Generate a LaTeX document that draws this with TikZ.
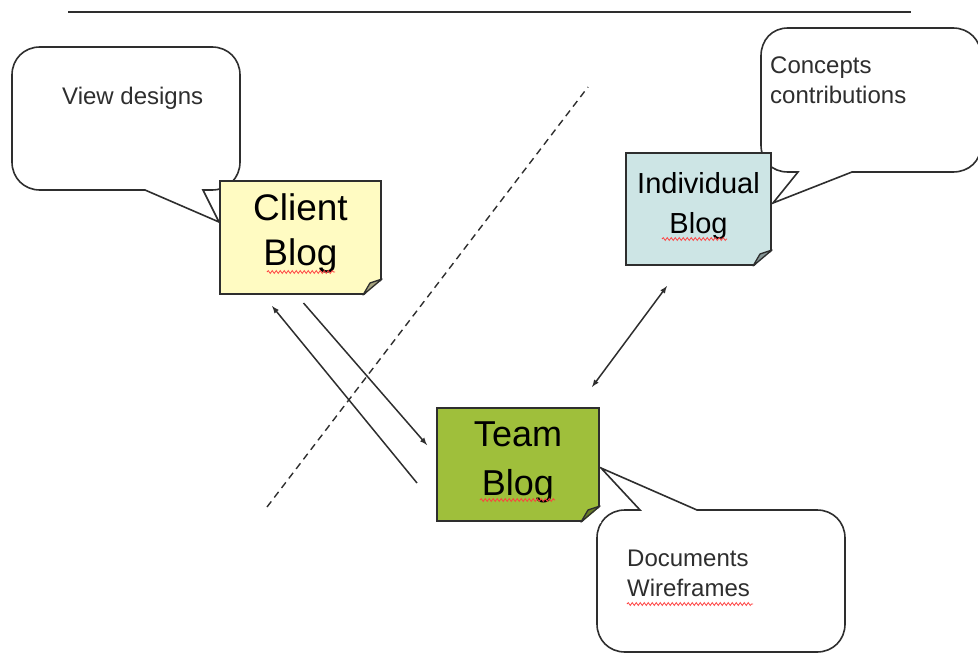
\documentclass[tikz,border=0pt]{standalone}
\usepackage{fontspec}
\setmainfont{Liberation Sans}
\usetikzlibrary{arrows,decorations.pathmorphing}

\definecolor{clientyellow}{HTML}{FFFBC2}
\definecolor{indivblue}{HTML}{CDE5E5}
\definecolor{teamgreen}{HTML}{9FBF3B}
\definecolor{inkgray}{HTML}{2E2E2E}

% folded corner of a blog note: #1 node, #2 fill colour
\newcommand\dogear[2]{%
  \fill[white] ([shift={(-19,1.2)}]#1.south east) -- ([shift={(1.2,1.2)}]#1.south east) -- ([shift={(1.2,-16)}]#1.south east) -- cycle;
  \filldraw[fill=#2!65!black,draw=inkgray,line width=1.3pt,line join=round] ([shift={(-19,0)}]#1.south east) -- ([shift={(0,-16)}]#1.south east) -- ([shift={(-12,-12)}]#1.south east) -- cycle;}

\begin{document}
\begin{tikzpicture}[x=1pt,y=-1pt,>=latex,
    blog/.style={draw=inkgray,line width=2pt,inner sep=0pt,align=center,text=black},
    bubble/.style={draw=inkgray,line width=1.6pt,fill=white},
    says/.style={anchor=north west,inner sep=0pt,align=left,text=inkgray,font=\fontsize{24}{30}\selectfont},
    link/.style={draw=inkgray,line width=1.5pt},
    squiggle/.style={draw=red!75,line width=0.8pt,decorate,decoration={snake,amplitude=1.4pt,segment length=4pt}}]

  \useasboundingbox (0,0) rectangle (978,653);

  % rule along the top
  \coordinate (ruleL) at (68,12);
  \coordinate (ruleR) at (911,12);
  \draw[inkgray,line width=1.8pt] (ruleL) -- (ruleR);

  % speech bubbles
  \draw[bubble] (145,190) -- (40,190) .. controls (24,190) and (12,178) .. (12,162)
     -- (12,75) .. controls (12,59) and (24,47) .. (40,47)
     -- (212,47) .. controls (228,47) and (240,59) .. (240,75)
     -- (240,162) .. controls (240,178) and (228,190) .. (212,190)
     -- (203,190) -- (219,222) -- cycle;
  \node[says] (viewtxt) at (62,87) {View designs};

  \draw[bubble] (852,172) -- (773,203) -- (798,172) -- (788,172) .. controls (772,172) and (761,161) .. (761,145)
     -- (761,56) .. controls (761,40) and (772,28) .. (788,28)
     -- (953,28) .. controls (969,28) and (981,40) .. (981,56)
     -- (981,145) .. controls (981,161) and (969,172) .. (953,172) -- cycle;
  \node[says] (ideastxt) at (770,57) {Concepts\\contributions};

  \draw[bubble] (697,510) -- (817,510) .. controls (833,510) and (845,522) .. (845,538)
     -- (845,624) .. controls (845,640) and (833,652) .. (817,652)
     -- (625,652) .. controls (609,652) and (597,640) .. (597,624)
     -- (597,538) .. controls (597,522) and (609,510) .. (625,510)
     -- (640,510) -- (601,468) -- cycle;
  \node[says] (docstxt) at (627,550) {Documents\\Wireframes};

  % the three blogs
  \node[blog,fill=clientyellow,minimum width=161pt,minimum height=113pt,text depth=16pt,
        font=\fontsize{37}{45}\selectfont] (client) at (300.5,237.5) {Client\\Blog};
  \node[blog,fill=indivblue,minimum width=145pt,minimum height=112pt,text depth=13pt,
        font=\fontsize{29}{40}\selectfont] (indiv) at (698.5,209) {Individual\\Blog};
  \node[blog,fill=teamgreen,minimum width=162pt,minimum height=113pt,text depth=12pt,
        font=\fontsize{36}{49}\selectfont] (team) at (518,464.5) {Team\\Blog};
  \dogear{client}{clientyellow}
  \dogear{indiv}{indivblue}
  \dogear{team}{teamgreen}

  % spelling marks
  \draw[squiggle] (267,272) -- (335,272);
  \draw[squiggle] (662,239) -- (727,239);
  \draw[squiggle] (480,500) -- (555,500);
  \draw[squiggle] (627,604) -- (753,604);

  % links
  \draw[link,->] ([shift={(3,8)}]client.south) -- ([shift={(-9,-19.5)}]team.west);
  \draw[link,->] ([shift={(-19,18.5)}]team.west) -- ([shift={(-28.5,11)}]client.south);
  \draw[link,<->] ([shift={(-31.5,20)}]indiv.south) -- ([shift={(74,-20)}]team.north);

  % dividing line
  \coordinate (cutA) at (267,507);
  \coordinate (cutB) at (588,87);
  \draw[inkgray,line width=1.4pt,dash pattern=on 7pt off 5pt] (cutA) -- (cutB);

\end{tikzpicture}
\end{document}
